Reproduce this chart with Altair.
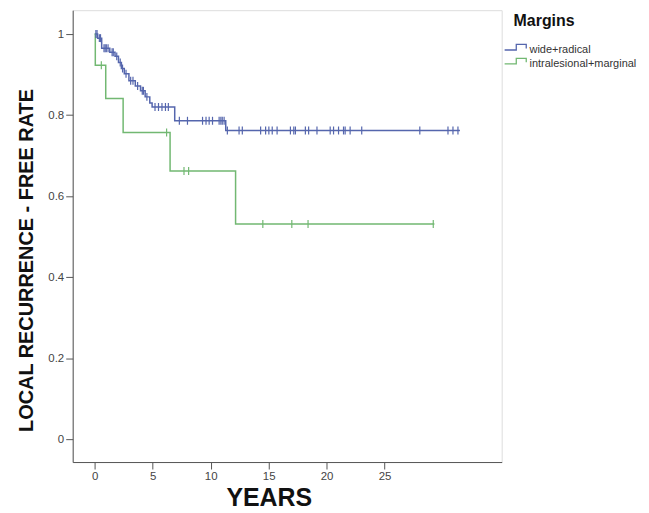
import altair as alt
import pandas as pd

# ---- data ----
series_names = ["wide+radical", "intralesional+marginal"]

wide_times = [0, 0.25, 0.6, 1.3, 1.75, 2.05, 2.3, 2.55, 2.95, 3.5, 3.95, 4.35, 4.75, 4.95, 6.9, 11.3]
wide_surv = [1.0, 0.99, 0.965, 0.955, 0.945, 0.93, 0.915, 0.902, 0.885, 0.872, 0.86, 0.845, 0.83, 0.82, 0.786, 0.762]
wide_end = 31.5
wide_censored = [0.1, 0.2, 0.4, 0.5, 0.8, 0.9, 1.0, 1.15, 1.5, 1.6, 1.9, 2.2, 2.4, 2.7, 3.1, 3.3,
                 3.7, 4.1, 4.2, 4.5, 5.2, 5.5, 5.8, 6.1, 6.35, 7.3, 8.0, 9.3, 9.6, 9.87, 10.16,
                 10.73, 10.88, 11.0, 11.16, 11.44, 12.45, 12.73, 14.31, 14.74, 15.02, 15.31,
                 15.73, 16.88, 17.17, 17.31, 18.17, 18.45, 19.17, 20.31, 20.6, 21.03, 21.46,
                 21.6, 22.03, 23.03, 28.04, 30.47, 30.9, 31.33]

intra_times = [0, 0.05, 0.95, 2.45, 6.5, 12.15]
intra_surv = [1.0, 0.923, 0.841, 0.757, 0.662, 0.531]
intra_end = 29.3
intra_censored = [0.57, 6.2, 7.7, 8.1, 14.5, 17.0, 18.4, 29.2]

x_ticks = [0, 5, 10, 15, 20, 25]
y_ticks = [0, 0.2, 0.4, 0.6, 0.8, 1.0]
colors = ["#5566ad", "#72b872"]


def step_value(times, surv, t):
    v = surv[0]
    for ti, si in zip(times, surv):
        if ti <= t:
            v = si
    return v


rows = []
cens = []
for name, times, surv, end, cs in [
    (series_names[0], wide_times, wide_surv, wide_end, wide_censored),
    (series_names[1], intra_times, intra_surv, intra_end, intra_censored),
]:
    for t, s in zip(times, surv):
        rows.append({"Margins": name, "t": t, "s": s})
    rows.append({"Margins": name, "t": end, "s": surv[-1]})
    for c in cs:
        cens.append({"Margins": name, "t": c, "s": step_value(times, surv, c)})

df_line = pd.DataFrame(rows)
df_cens = pd.DataFrame(cens)

xscale = alt.Scale(domain=[-1.9, 35.1], nice=False, zero=False)
yscale = alt.Scale(domain=[-0.0565, 1.059], nice=False, zero=False)
cscale = alt.Scale(domain=series_names, range=colors)

legend_path = "M-2.67,0L-0.72,0L-0.72,-0.93L0.95,-0.93L0.95,-0.27"

x_enc = alt.X("t:Q", scale=xscale,
              axis=alt.Axis(values=x_ticks, title="YEARS", titleFontSize=25, titleFontWeight="bold",
                            titleColor="#111", titleX=197, titleY=44, titleAlign="center",
                            titleBaseline="alphabetic", labelFontSize=11.5, labelColor="#444",
                            tickSize=7, labelPadding=2, grid=False, domainColor="#555",
                            tickColor="#555", labelFlush=False))
y_enc = alt.Y("s:Q", scale=yscale,
              axis=alt.Axis(values=y_ticks, format=".1~f", title="LOCAL RECURRENCE - FREE RATE",
                            titleFontSize=20, titleFontWeight="bold", titleColor="#111",
                            titleX=-40, titleY=251, titleAngle=-90, titleAlign="center",
                            titleBaseline="alphabetic", labelFontSize=11.5, labelColor="#444",
                            tickSize=7, labelPadding=2, grid=False, domainColor="#555",
                            tickColor="#555", labelFlush=False))

legend = alt.Legend(orient="none", legendX=443, legendY=3, title="Margins",
                    titleFontSize=16, titleFontWeight="bold", titleColor="#111",
                    labelFontSize=11, labelColor="#333", symbolType=legend_path,
                    symbolSize=144, symbolStrokeWidth=1.3, labelOffset=2,
                    symbolFillColor="transparent",
                    titlePadding=14, rowPadding=0, padding=0)

lines = alt.Chart(df_line).mark_line(interpolate="step-after", strokeWidth=1.5).encode(
    x=x_enc, y=y_enc,
    color=alt.Color("Margins:N", scale=cscale, sort=series_names, legend=legend),
)

censor_marks = alt.Chart(df_cens).mark_point(shape="M0,-1L0,1", size=64, strokeWidth=1.2,
                                             opacity=1, filled=False).encode(
    x="t:Q", y="s:Q",
    color=alt.Color("Margins:N", scale=cscale, sort=series_names, legend=legend),
)

chart = alt.layer(lines, censor_marks).properties(
    width=431, height=454,
    autosize=alt.AutoSizeParams(type="none"),
    padding={"left": 65, "top": 1, "right": 140, "bottom": 50},
    background="white",
).configure_view(fill="#f0f0f0", stroke="#888", strokeWidth=1.2).configure(
    font="Liberation Sans"
)

chart.save("out.html", embed_options={"renderer": "svg", "actions": False})
